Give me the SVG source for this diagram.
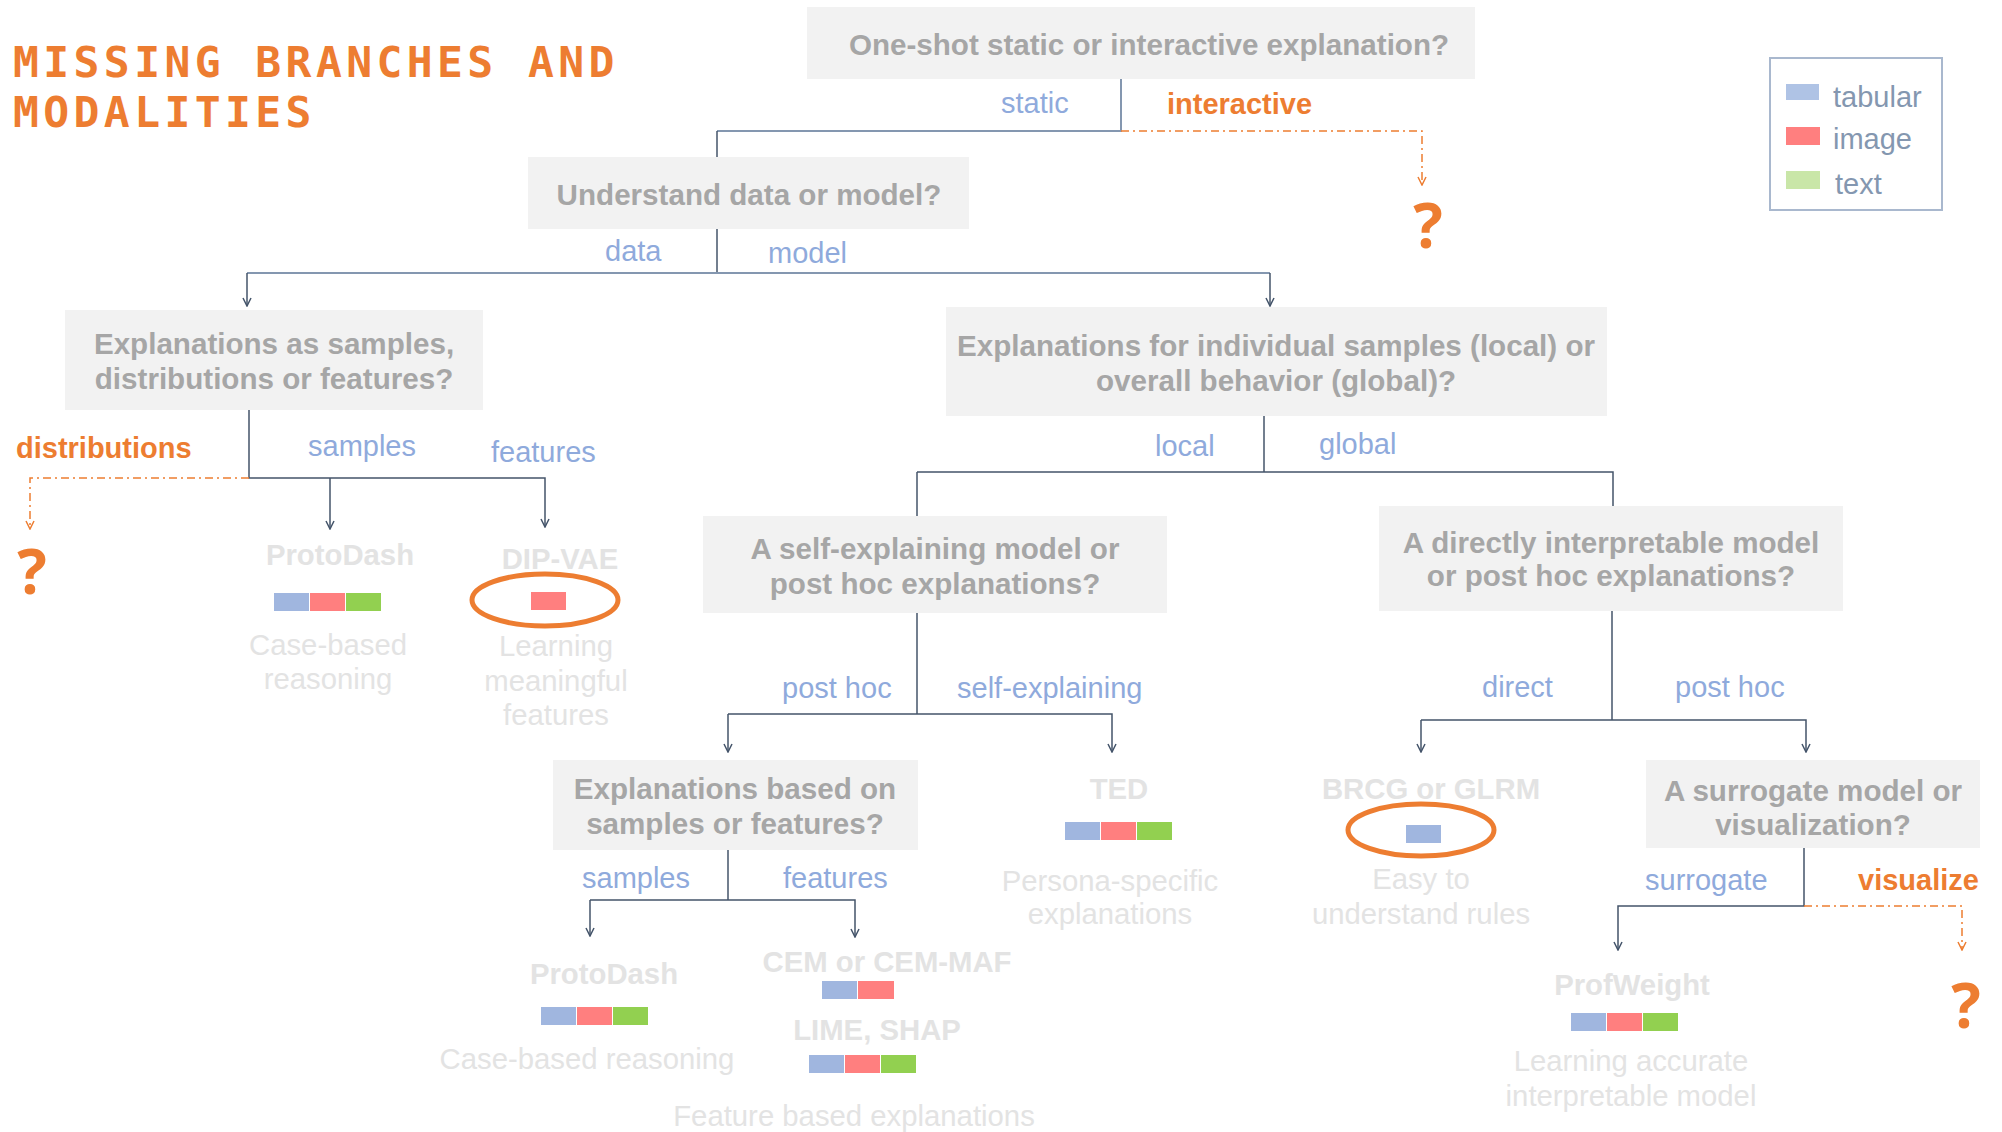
<svg xmlns="http://www.w3.org/2000/svg" width="2002" height="1132" viewBox="0 0 2002 1132">
<defs>
<style>
.box{fill:#F2F2F2}
.q{font-family:"Liberation Sans",Arial,sans-serif;font-weight:bold;font-size:29.6px;fill:#A6A6A6;text-anchor:middle}
.lb{font-family:"Liberation Sans",Arial,sans-serif;font-size:29px;fill:#8FAADC}
.lo{font-family:"Liberation Sans",Arial,sans-serif;font-weight:bold;font-size:29px;fill:#ED7D31}
.lt{font-family:"Liberation Sans",Arial,sans-serif;font-weight:bold;font-size:29.3px;fill:#E3E3E3;text-anchor:middle}
.ld{font-family:"Liberation Sans",Arial,sans-serif;font-size:29.3px;fill:#E3E3E3;text-anchor:middle}
.qm{font-family:"Open Sans","Liberation Sans",sans-serif;font-weight:bold;font-size:62px;fill:#ED7D31;text-anchor:middle}
.title{font-family:"DejaVu Sans Mono",monospace;font-weight:bold;font-size:43px;fill:#ED7D31;letter-spacing:4.4px}
.leg{font-family:"Liberation Sans",Arial,sans-serif;font-size:29px;fill:#8497B0}
.c{fill:none;stroke:#44546A;stroke-width:1.5}
.ch{fill:none;stroke:#8497B0;stroke-width:2}
.d{fill:none;stroke:#ED7D31;stroke-width:1.5;stroke-dasharray:8 4 2 4}
.sb{fill:#A0B6DF}.sr{fill:#FF7F7F}.sg{fill:#92D050}
.ell{fill:none;stroke:#ED7D31;stroke-width:5}
</style>
<marker id="arr" viewBox="0 0 10 10" refX="9" refY="5" markerWidth="10" markerHeight="10" markerUnits="userSpaceOnUse" orient="auto">
<path d="M1,1 L9,5 L1,9" fill="none" stroke="#44546A" stroke-width="1.5"/>
</marker>
<marker id="arro" viewBox="0 0 10 10" refX="9" refY="5" markerWidth="10" markerHeight="10" markerUnits="userSpaceOnUse" orient="auto">
<path d="M1,1 L9,5 L1,9" fill="none" stroke="#ED7D31" stroke-width="1.5"/>
</marker>
</defs>
<rect width="2002" height="1132" fill="#FFFFFF"/>

<g id="title">
<text class="title" x="13" y="77">MISSING BRANCHES AND</text>
<text class="title" x="13" y="127">MODALITIES</text>
</g>

<g id="legend">
<rect x="1770" y="58" width="172" height="152" fill="#FFFFFF" stroke="#A9B8CE" stroke-width="2"/>
<rect x="1786" y="84" width="33" height="16" fill="#AFC3E5"/>
<rect x="1786" y="127" width="34" height="18" fill="#FF7F7F"/>
<rect x="1786" y="171" width="34" height="18" fill="#C9E6A8"/>
<text class="leg" x="1833" y="107">tabular</text>
<text class="leg" x="1833" y="149">image</text>
<text class="leg" x="1835" y="194">text</text>
</g>

<g id="connectors">
<path class="ch" d="M1121,79 V131 H717"/>
<path class="c" d="M717,131 V157"/>
<path class="d" d="M1121,131 H1422 V185" marker-end="url(#arro)"/>

<path class="c" d="M717,229 V273"/>
<path class="ch" d="M247,273 H1270"/>
<path class="c" d="M247,273 V306" marker-end="url(#arr)"/>
<path class="c" d="M1270,273 V306" marker-end="url(#arr)"/>

<path class="c" d="M249,410 V478 H545 V527" marker-end="url(#arr)"/>
<path class="c" d="M330,478 V529" marker-end="url(#arr)"/>
<path class="d" d="M249,478 H30 V529" marker-end="url(#arro)"/>

<path class="c" d="M1264,416 V472"/>
<path class="c" d="M917,472 H1613 V506"/>
<path class="c" d="M917,472 V516"/>

<path class="c" d="M917,613 V714"/>
<path class="c" d="M728,714 H1112 V752" marker-end="url(#arr)"/>
<path class="c" d="M728,714 V752" marker-end="url(#arr)"/>

<path class="c" d="M1612,611 V720"/>
<path class="c" d="M1421,720 H1806 V752" marker-end="url(#arr)"/>
<path class="c" d="M1421,720 V752" marker-end="url(#arr)"/>

<path class="c" d="M1804,848 V906 H1618 V950" marker-end="url(#arr)"/>
<path class="d" d="M1804,906 H1962 V950" marker-end="url(#arro)"/>

<path class="c" d="M728,850 V900"/>
<path class="c" d="M590,900 H855 V937" marker-end="url(#arr)"/>
<path class="c" d="M590,900 V936" marker-end="url(#arr)"/>
</g>

<g id="labels">
<text class="lb" x="1001" y="113">static</text>
<text class="lo" x="1167" y="114">interactive</text>
<text class="lb" x="605" y="261">data</text>
<text class="lb" x="768" y="263">model</text>
<text class="lo" x="16" y="458">distributions</text>
<text class="lb" x="308" y="456">samples</text>
<text class="lb" x="491" y="462">features</text>
<text class="lb" x="1155" y="456">local</text>
<text class="lb" x="1319" y="454">global</text>
<text class="lb" x="782" y="698">post hoc</text>
<text class="lb" x="957" y="698">self-explaining</text>
<text class="lb" x="1482" y="697">direct</text>
<text class="lb" x="1675" y="697">post hoc</text>
<text class="lb" x="582" y="888">samples</text>
<text class="lb" x="783" y="888">features</text>
<text class="lb" x="1645" y="890">surrogate</text>
<text class="lo" x="1858" y="890">visualize</text>
</g>

<g id="n-oneshot">
<rect class="box" x="807" y="7" width="668" height="72"/>
<text class="q" x="1149" y="55">One-shot static or interactive explanation?</text>
</g>
<g id="n-datamodel">
<rect class="box" x="528" y="157" width="441" height="72"/>
<text class="q" x="749" y="205">Understand data or model?</text>
</g>
<g id="n-samplesdist">
<rect class="box" x="65" y="310" width="418" height="100"/>
<text class="q" x="274" y="354">Explanations as samples,</text>
<text class="q" x="274" y="389">distributions or features?</text>
</g>
<g id="n-localglobal">
<rect class="box" x="946" y="307" width="661" height="109"/>
<text class="q" x="1276" y="356">Explanations for individual samples (local) or</text>
<text class="q" x="1276" y="391">overall behavior (global)?</text>
</g>
<g id="n-selfexpl">
<rect class="box" x="703" y="516" width="464" height="97"/>
<text class="q" x="935" y="559">A self-explaining model or</text>
<text class="q" x="935" y="594">post hoc explanations?</text>
</g>
<g id="n-direct">
<rect class="box" x="1379" y="506" width="464" height="105"/>
<text class="q" x="1611" y="553">A directly interpretable model</text>
<text class="q" x="1611" y="586">or post hoc explanations?</text>
</g>
<g id="n-surrogate">
<rect class="box" x="1646" y="760" width="334" height="88"/>
<text class="q" x="1813" y="801">A surrogate model or</text>
<text class="q" x="1813" y="835">visualization?</text>
</g>
<g id="n-basedon">
<rect class="box" x="553" y="760" width="365" height="90"/>
<text class="q" x="735" y="799">Explanations based on</text>
<text class="q" x="735" y="834">samples or features?</text>
</g>

<g id="q-interactive"><text class="qm" x="1428" y="248">?</text></g>
<g id="q-distributions"><text class="qm" x="32" y="594">?</text></g>
<g id="q-visualize"><text class="qm" x="1966" y="1028">?</text></g>

<g id="leaf-protodash1">
<text class="lt" x="340" y="565">ProtoDash</text>
<rect class="sb" x="274" y="593" width="35" height="18"/>
<rect class="sr" x="310" y="593" width="35" height="18"/>
<rect class="sg" x="346" y="593" width="35" height="18"/>
<text class="ld" x="328" y="655">Case-based</text>
<text class="ld" x="328" y="689">reasoning</text>
</g>
<g id="leaf-dipvae">
<text class="lt" x="560" y="569">DIP-VAE</text>
<ellipse class="ell" cx="545" cy="600" rx="73" ry="26"/>
<rect class="sr" x="531" y="592" width="35" height="18"/>
<text class="ld" x="556" y="656">Learning</text>
<text class="ld" x="556" y="691">meaningful</text>
<text class="ld" x="556" y="725">features</text>
</g>
<g id="leaf-ted">
<text class="lt" x="1119" y="799">TED</text>
<rect class="sb" x="1065" y="822" width="35" height="18"/>
<rect class="sr" x="1101" y="822" width="35" height="18"/>
<rect class="sg" x="1137" y="822" width="35" height="18"/>
<text class="ld" x="1110" y="891">Persona-specific</text>
<text class="ld" x="1110" y="924">explanations</text>
</g>
<g id="leaf-brcg">
<text class="lt" x="1431" y="799">BRCG or GLRM</text>
<ellipse class="ell" cx="1421" cy="830" rx="73" ry="26"/>
<rect class="sb" x="1406" y="825" width="35" height="18"/>
<text class="ld" x="1421" y="889">Easy to</text>
<text class="ld" x="1421" y="924">understand rules</text>
</g>
<g id="leaf-profweight">
<text class="lt" x="1632" y="995">ProfWeight</text>
<rect class="sb" x="1571" y="1013" width="35" height="18"/>
<rect class="sr" x="1607" y="1013" width="35" height="18"/>
<rect class="sg" x="1643" y="1013" width="35" height="18"/>
<text class="ld" x="1631" y="1071">Learning accurate</text>
<text class="ld" x="1631" y="1106">interpretable model</text>
</g>
<g id="leaf-protodash2">
<text class="lt" x="604" y="984">ProtoDash</text>
<rect class="sb" x="541" y="1007" width="35" height="18"/>
<rect class="sr" x="577" y="1007" width="35" height="18"/>
<rect class="sg" x="613" y="1007" width="35" height="18"/>
<text class="ld" x="587" y="1069">Case-based reasoning</text>
</g>
<g id="leaf-features">
<text class="lt" x="887" y="972">CEM or CEM-MAF</text>
<rect class="sb" x="822" y="981" width="35" height="18"/>
<rect class="sr" x="858" y="981" width="36" height="18"/>
<text class="lt" x="877" y="1040">LIME, SHAP</text>
<rect class="sb" x="809" y="1055" width="35" height="18"/>
<rect class="sr" x="845" y="1055" width="35" height="18"/>
<rect class="sg" x="881" y="1055" width="35" height="18"/>
<text class="ld" x="854" y="1126">Feature based explanations</text>
</g>
</svg>
